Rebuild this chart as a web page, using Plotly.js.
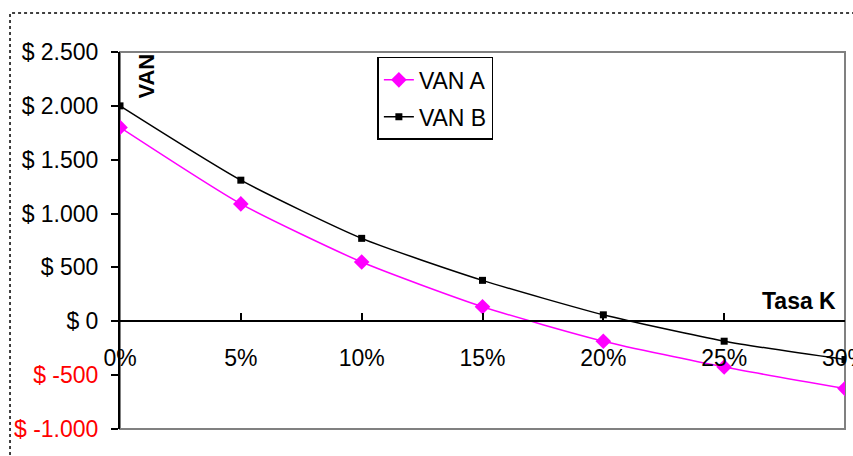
<!DOCTYPE html>
<html>
<head>
<meta charset="utf-8">
<script src="https://cdn.plot.ly/plotly-3.0.1.min.js"></script>
<style>html,body{margin:0;padding:0;background:#fff;}#chart{width:853px;height:456px;}</style>
</head>
<body>
<div id="chart"></div>
<script>
// Data
var tasas = [0, 0.05, 0.10, 0.15, 0.20, 0.25, 0.30];
var tasaLabels = ["0%", "5%", "10%", "15%", "20%", "25%", "30%"];
var vanA = [1800, 1090, 550, 135, -185, -425, -625];
var vanB = [2000, 1310, 770, 380, 60, -185, -355];
var yTickVals = [2500, 2000, 1500, 1000, 500, 0, -500, -1000];
var yTickLabels = ["$ 2.500", "$ 2.000", "$ 1.500", "$ 1.000", "$ 500", "$ 0", "$ -500", "$ -1.000"];

var yTickText = yTickVals.map(function (v, i) {
  return v < 0 ? '<span style="color:#ff0000">' + yTickLabels[i] + '</span>' : yTickLabels[i];
});

var font = "Liberation Sans, Arial, sans-serif";

var traces = [
  {
    x: tasas, y: vanA, name: "VAN A", type: "scatter", mode: "lines+markers", legendgroup: "a",
    line: {color: "#ff00ff", width: 1.5, shape: "spline", smoothing: 0.6},
    marker: {symbol: "diamond", size: 12, color: "#ff00ff"}
  },
  {
    x: tasas, y: vanB, name: "VAN B", type: "scatter", mode: "lines+markers", legendgroup: "b",
    line: {color: "#000000", width: 1.5, shape: "spline", smoothing: 0.6},
    marker: {symbol: "square", size: 7, color: "#000000"}
  }
];

var zeroFrac = (0 - (-1000)) / (2500 - (-1000));

var layout = {
  width: 853, height: 456,
  margin: {l: 120, r: 8, t: 52, b: 27},
  paper_bgcolor: "#ffffff", plot_bgcolor: "#ffffff",
  font: {family: font, size: 23, color: "#000"},
  showlegend: true,
  legend: {
    x: 0.355, y: 0.987, xanchor: "left", yanchor: "top",
    bordercolor: "#000", borderwidth: 1.5, bgcolor: "#fff",
    font: {family: font, size: 23, color: "#000"},
    traceorder: "grouped", tracegroupgap: 4,
    entrywidth: 118, entrywidthmode: "pixels"
  },
  xaxis: {
    range: [0, 0.30], anchor: "free", position: zeroFrac,
    tickvals: tasas, ticktext: tasaLabels,
    ticks: "inside", ticklen: 7, tickwidth: 2, tickcolor: "#000",
    showline: true, linecolor: "#000", linewidth: 2,
    showgrid: false, zeroline: false,
    ticklabelstandoff: 16, ticklabeloverflow: "allow",
    tickfont: {family: font, size: 23, color: "#000"}
  },
  yaxis: {
    range: [-1000, 2500],
    tickvals: yTickVals, ticktext: yTickText,
    ticks: "outside", ticklen: 7, tickwidth: 2, tickcolor: "#000",
    showline: true, linecolor: "#000", linewidth: 2,
    showgrid: false, zeroline: false,
    ticklabelstandoff: 8,
    tickfont: {family: font, size: 23, color: "#000"}
  },
  shapes: [
    {type: "rect", xref: "paper", yref: "paper", x0: 0, x1: 1, y0: 0, y1: 1,
     line: {color: "#808080", width: 2}, layer: "below"},
    {type: "rect", xref: "paper", yref: "paper", x0: -0.1517, x1: 1.2, y0: -0.3, y1: 1.1034,
     line: {color: "#000", width: 1.5, dash: "dot"}, layer: "below"}
  ],
  annotations: [
    {text: "<b>VAN</b>", xref: "paper", yref: "paper", x: 0.016, y: 1, xanchor: "left", yanchor: "top",
     textangle: -90, showarrow: false, font: {family: font, size: 22, color: "#000"}},
    {text: "<b>Tasa K</b>", xref: "paper", yref: "paper", x: 0.99, y: zeroFrac + 0.015, xanchor: "right", yanchor: "bottom",
     showarrow: false, font: {family: font, size: 23, color: "#000"}}
  ]
};

Plotly.newPlot("chart", traces, layout, {displayModeBar: false, staticPlot: true});
</script>
</body>
</html>
